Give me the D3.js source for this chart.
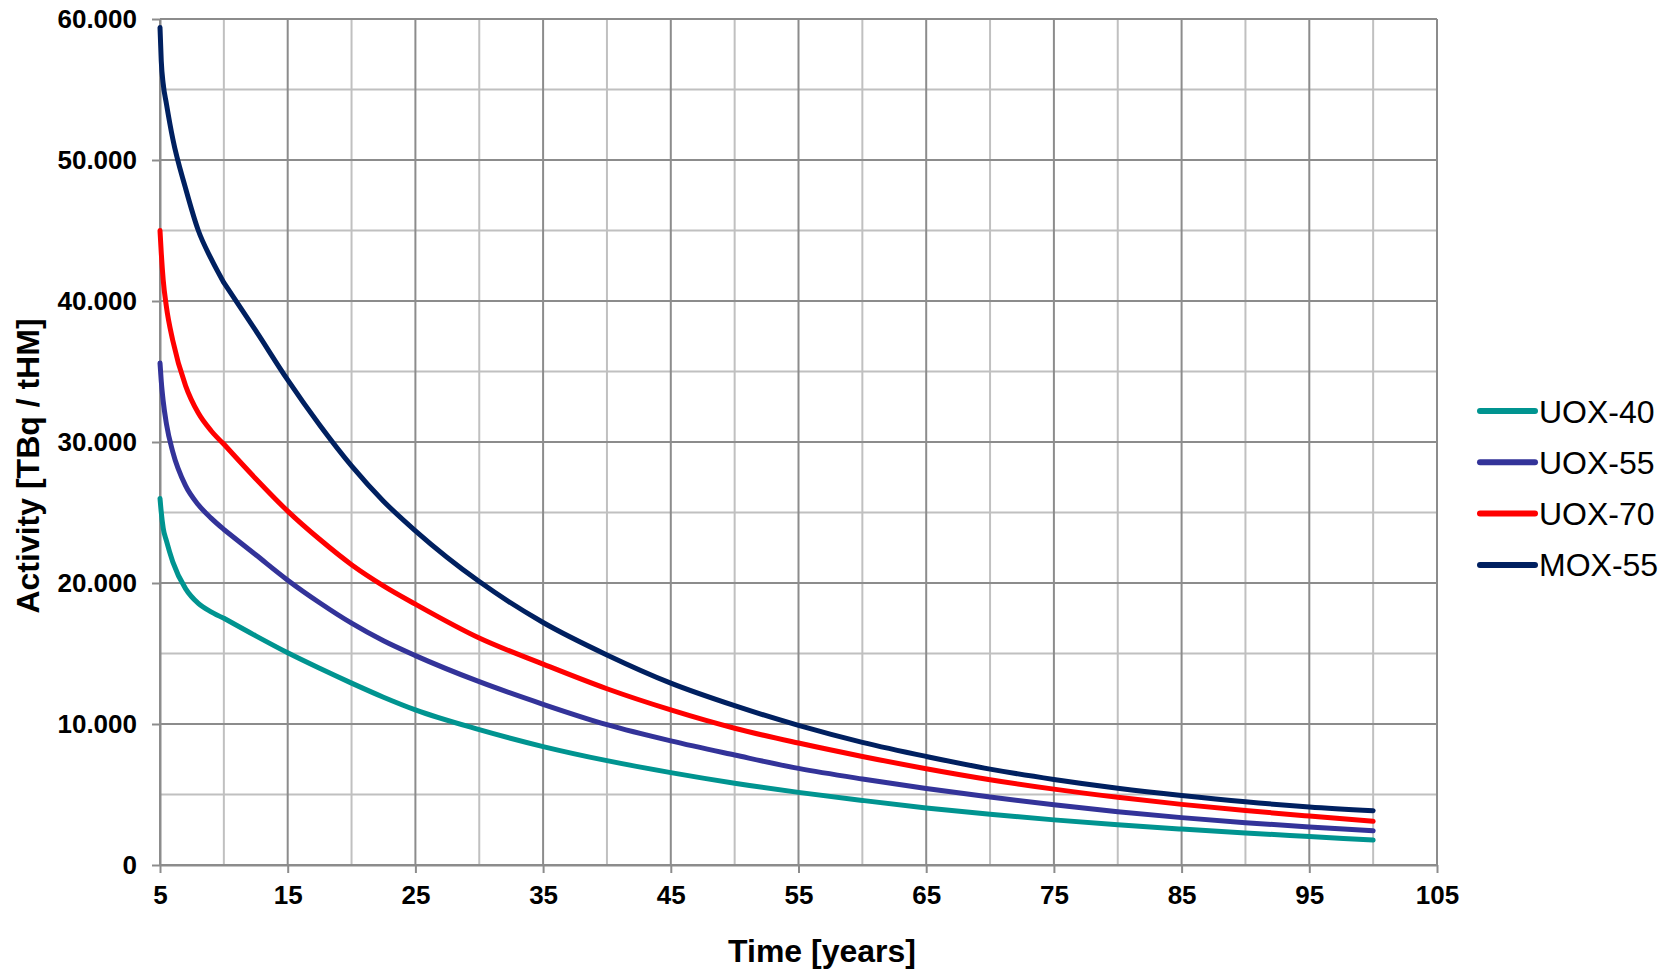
<!DOCTYPE html>
<html>
<head>
<meta charset="utf-8">
<script src="https://cdn.jsdelivr.net/npm/d3@7"></script>
<style>
    body { margin: 0; background: #fff; }
    svg text { font-family: "Liberation Sans", Arial, sans-serif; fill: #000; }
</style>
</head>
<body>
<div id="chart"></div>
<script>
// Data (activity in TBq / tHM)
var years = [5, 5.1, 5.25, 5.5, 6, 7, 8, 9, 10, 12.5, 15, 17.5, 20, 22.5, 25, 30, 35, 40, 45, 50,
             55, 60, 65, 70, 75, 80, 85, 90, 95, 100];

var uox40 = [26000, 25000, 23900, 23000, 21500, 19600, 18550, 17950, 17500, 16250, 15050, 13950,
             12900, 11900, 11000, 9600, 8400, 7400, 6550, 5800, 5150, 4580, 4050, 3600, 3200,
             2850, 2550, 2270, 2020, 1770];
var uox55 = [35600, 34300, 32900, 31300, 29300, 26900, 25550, 24600, 23800, 22000, 20200, 18600,
             17150, 15900, 14850, 13000, 11400, 9950, 8800, 7800, 6850, 6100, 5430, 4820, 4270,
             3780, 3360, 3000, 2700, 2430];
var uox70 = [45000, 43400, 41500, 39600, 37200, 34000, 32050, 30800, 29850, 27400, 25100, 23100,
             21300, 19800, 18500, 16100, 14250, 12500, 11000, 9700, 8650, 7700, 6830, 6050, 5380,
             4800, 4300, 3860, 3470, 3100];
var mox55 = [59400, 57000, 55400, 54000, 51500, 48000, 45000, 43000, 41300, 37900, 34400, 31200,
             28300, 25800, 23700, 20100, 17200, 14900, 12900, 11300, 9900, 8700, 7700, 6800, 6070,
             5450, 4930, 4480, 4120, 3850];

var seriesNames = ["UOX-40", "UOX-55", "UOX-70", "MOX-55"];
var seriesColors = ["#009490", "#333399", "#ff0000", "#002060"];
var seriesValues = [uox40, uox55, uox70, mox55];

var xTicks = [5, 15, 25, 35, 45, 55, 65, 75, 85, 95, 105];
var xMinor = [10, 20, 30, 40, 50, 60, 70, 80, 90, 100];
var yTicks = [0, 10000, 20000, 30000, 40000, 50000, 60000];
var yMinor = [5000, 15000, 25000, 35000, 45000, 55000];

// Layout
var width = 1675, height = 970;
var margin = { top: 19, right: 238, bottom: 105, left: 160 };

var svg = d3.select("#chart").append("svg")
    .attr("width", width)
    .attr("height", height);

var x = d3.scaleLinear().domain([5, 105]).range([margin.left, width - margin.right]);
var y = d3.scaleLinear().domain([0, 60000]).range([height - margin.bottom, margin.top]);

// German style number format: 60.000
var de = d3.formatLocale({ decimal: ",", thousands: ".", grouping: [3], currency: ["", " €"] });
var fmt = de.format(",d");

// Grid: light minor lines first, then darker major lines
var grid = svg.append("g");
grid.selectAll(".vminor").data(xMinor).enter().append("line")
    .attr("x1", d => x(d)).attr("x2", d => x(d))
    .attr("y1", y(0)).attr("y2", y(60000))
    .attr("stroke", "#c0c0c0").attr("stroke-width", 2);
grid.selectAll(".hminor").data(yMinor).enter().append("line")
    .attr("x1", x(5)).attr("x2", x(105))
    .attr("y1", d => y(d)).attr("y2", d => y(d))
    .attr("stroke", "#c0c0c0").attr("stroke-width", 2);
grid.selectAll(".vmajor").data(xTicks).enter().append("line")
    .attr("x1", d => x(d)).attr("x2", d => x(d))
    .attr("y1", y(0)).attr("y2", y(60000))
    .attr("stroke", "#8c8c8c").attr("stroke-width", 2);
grid.selectAll(".hmajor").data(yTicks).enter().append("line")
    .attr("x1", x(5)).attr("x2", x(105))
    .attr("y1", d => y(d)).attr("y2", d => y(d))
    .attr("stroke", "#8c8c8c").attr("stroke-width", 2);

// Axes
var yAxis = svg.append("g")
    .attr("transform", "translate(" + x(5) + ",0)")
    .call(d3.axisLeft(y).tickValues(yTicks).tickFormat(fmt).tickSize(8).tickSizeOuter(0).tickPadding(15));
var xAxis = svg.append("g")
    .attr("transform", "translate(0," + y(0) + ")")
    .call(d3.axisBottom(x).tickValues(xTicks).tickFormat(d3.format("d")).tickSize(8).tickSizeOuter(0).tickPadding(13));

[xAxis, yAxis].forEach(function (ax) {
    ax.select(".domain").attr("stroke", "#8c8c8c").attr("stroke-width", 2);
    ax.selectAll(".tick line").attr("stroke", "#8c8c8c").attr("stroke-width", 2);
    ax.selectAll(".tick text")
        .style("font-size", "26px")
        .style("font-weight", "bold")
        .style("font-family", "'Liberation Sans', Arial, sans-serif")
        .attr("fill", "#000");
});

// Series lines: smooth pieces before and after the bend at 10 years
var line = d3.line()
    .x(d => x(d[0]))
    .y(d => y(d[1]))
    .curve(d3.curveMonotoneX);

function seriesPath(vals) {
    var pts = years.map((t, i) => [t, vals[i]]);
    var early = pts.filter(p => p[0] <= 10);
    var late = pts.filter(p => p[0] >= 10);
    return line(early) + line(late).replace(/^M/, "L");
}

svg.append("g").selectAll("path")
    .data(seriesValues)
    .enter().append("path")
    .attr("d", d => seriesPath(d))
    .attr("fill", "none")
    .attr("stroke", (d, i) => seriesColors[i])
    .attr("stroke-width", 5)
    .attr("stroke-linejoin", "round")
    .attr("stroke-linecap", "round");

// Axis titles
svg.append("text")
    .attr("x", 822)
    .attr("y", 962)
    .attr("text-anchor", "middle")
    .style("font-size", "32px")
    .style("font-weight", "bold")
    .text("Time [years]");

svg.append("text")
    .attr("transform", "translate(39,466) rotate(-90)")
    .attr("text-anchor", "middle")
    .style("font-size", "32px")
    .style("font-weight", "bold")
    .text("Activity [TBq / tHM]");

// Legend
var legend = svg.append("g")
    .selectAll("g")
    .data(seriesNames)
    .enter().append("g")
    .attr("transform", (d, i) => "translate(1480," + (411 + i * 51.3) + ")");

legend.append("line")
    .attr("x1", 0).attr("x2", 55)
    .attr("stroke", (d, i) => seriesColors[i])
    .attr("stroke-width", 6)
    .attr("stroke-linecap", "round");

legend.append("text")
    .attr("x", 59)
    .attr("dy", "0.36em")
    .style("font-size", "32px")
    .text(d => d);
</script>
</body>
</html>
